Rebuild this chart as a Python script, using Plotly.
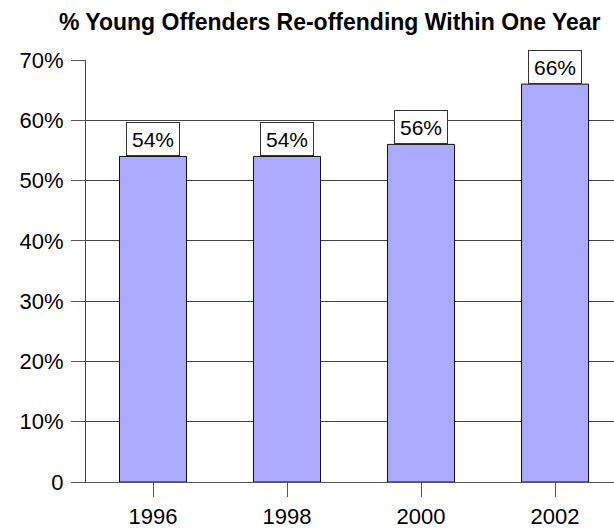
import plotly.graph_objects as go

years = ["1996", "1998", "2000", "2002"]
rates = [54, 54, 56, 66]
label_texts = ["54%", "54%", "56%", "66%"]
ytick_vals = [0, 10, 20, 30, 40, 50, 60, 70]
ytick_text = ["0", "10%", "20%", "30%", "40%", "50%", "60%", "70%"]
title_text = "% Young Offenders Re-offending Within One Year"

FONT = "Arial, Liberation Sans, sans-serif"

fig = go.Figure()
fig.add_trace(go.Bar(
    x=years, y=rates, width=0.5,
    marker=dict(color="#aaaaff", line=dict(color="#111111", width=1)),
    hoverinfo="skip",
))

for i, (y, t) in enumerate(zip(rates, label_texts)):
    fig.add_annotation(
        x=i, y=y, xref="x", yref="y", text=t, showarrow=False,
        yanchor="bottom", xanchor="center",
        font=dict(family=FONT, size=21, color="#000000"),
        bgcolor="#ffffff", bordercolor="#333333", borderwidth=1, borderpad=4,
        width=44, height=24,
    )

fig.update_layout(
    width=614, height=531,
    margin=dict(l=86, r=0, t=60, b=49, autoexpand=False),
    paper_bgcolor="#ffffff", plot_bgcolor="#ffffff",
    showlegend=False,
    title=dict(text="<b>" + title_text + "</b>", x=0.537, xanchor="center",
               y=1 - 22 / 531, yanchor="middle", yref="container",
               font=dict(family=FONT, size=23, color="#000000")),
    font=dict(family=FONT, size=22, color="#000000"),
)
fig.update_xaxes(
    type="category", range=[-0.5, 3.44], automargin=False,
    showline=True, linecolor="#555555", linewidth=1,
    ticks="outside", ticklen=14, tickcolor="#555555", tickwidth=1,
    tickfont=dict(family=FONT, size=22, color="#000000"),
    ticklabelstandoff=1,
    showgrid=False, zeroline=False,
)
fig.update_yaxes(
    range=[0, 70], tickvals=ytick_vals, ticktext=ytick_text, automargin=False,
    showline=True, linecolor="#444444", linewidth=1,
    ticks="outside", ticklen=14, tickcolor="#555555", tickwidth=1,
    tickfont=dict(family=FONT, size=22, color="#000000"),
    ticklabelstandoff=3,
    showgrid=True, gridcolor="#444444", gridwidth=1,
    zeroline=False,
)

fig.write_html("out.html")
